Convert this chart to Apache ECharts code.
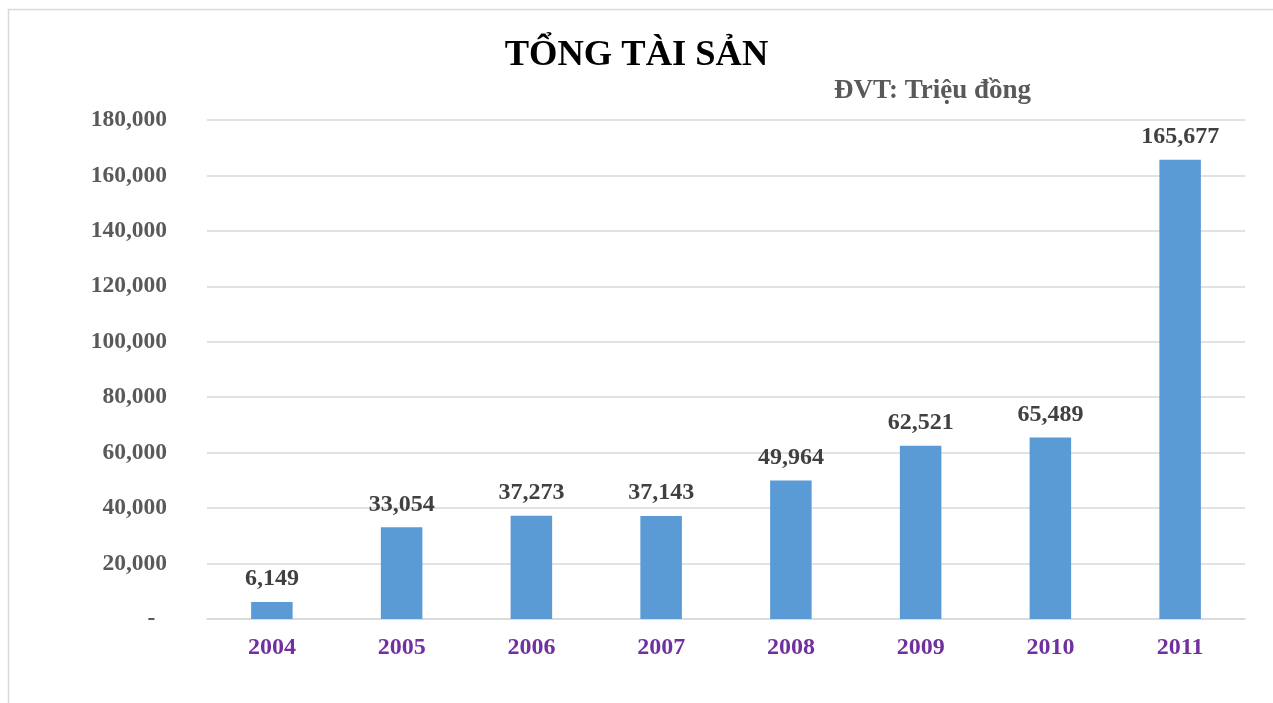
<!DOCTYPE html>
<html><head><meta charset="utf-8">
<script src="https://cdn.jsdelivr.net/npm/echarts@6/dist/echarts.min.js"></script>
<style>html,body{margin:0;padding:0;background:#fff}#c{width:1273px;height:703px}</style>
</head><body><div id="c"></div>
<script>
const categories = ['2004','2005','2006','2007','2008','2009','2010','2011'];
const values = [6149, 33054, 37273, 37143, 49964, 62521, 65489, 165677];
const titleText = 'TỔNG TÀI SẢN';
const unitText = 'ĐVT: Triệu đồng';
const FONT = '"Liberation Serif","Times New Roman",serif';
const chart = echarts.init(document.getElementById('c'));
const fmt = v => v.toString().replace(/\B(?=(\d{3})+(?!\d))/g, ',');
chart.setOption({
  animation: false,
  graphic: [{type:'rect', left:6, top:7, shape:{width:1400, height:900}, style:{fill:'none', stroke:'#d9d9d9', lineWidth:1.5}, z:-1}],
  title: [
    {text: titleText, left: 'center', top: 32, textStyle:{fontFamily:FONT, fontSize:36.5, fontWeight:'bold', color:'#000'}},
    {text: unitText, left: 829, top: 73, textStyle:{fontFamily:FONT, fontSize:27, fontWeight:'bold', color:'#595959'}}
  ],
  grid: {left: 207, right: 28, top: 120, bottom: 84},
  xAxis: {
    type:'category', data: categories,
    axisLine:{lineStyle:{color:'#d9d9d9', width:1.5}},
    axisTick:{show:false},
    axisLabel:{margin:17, fontFamily:FONT, fontSize:24, fontWeight:'bold', color:'#7030A0'}
  },
  yAxis: {
    type:'value', min:0, max:180000, interval:20000,
    axisLine:{show:false}, axisTick:{show:false},
    splitLine:{lineStyle:{color:'#d9d9d9', width:1.5}},
    axisLabel:{margin:40, fontFamily:FONT, fontSize:23.5, fontWeight:'bold', color:'#595959',
      formatter: v => v === 0 ? '-  ' : fmt(v)}
  },
  series: [{
    type:'bar', data: values, barWidth: '32%',
    itemStyle:{color:'#5B9BD5'},
    label:{show:true, position:'top', distance:11, fontFamily:FONT, fontSize:24, fontWeight:'bold', color:'#404040', formatter: p => fmt(p.value)}
  }]
});
</script></body></html>
